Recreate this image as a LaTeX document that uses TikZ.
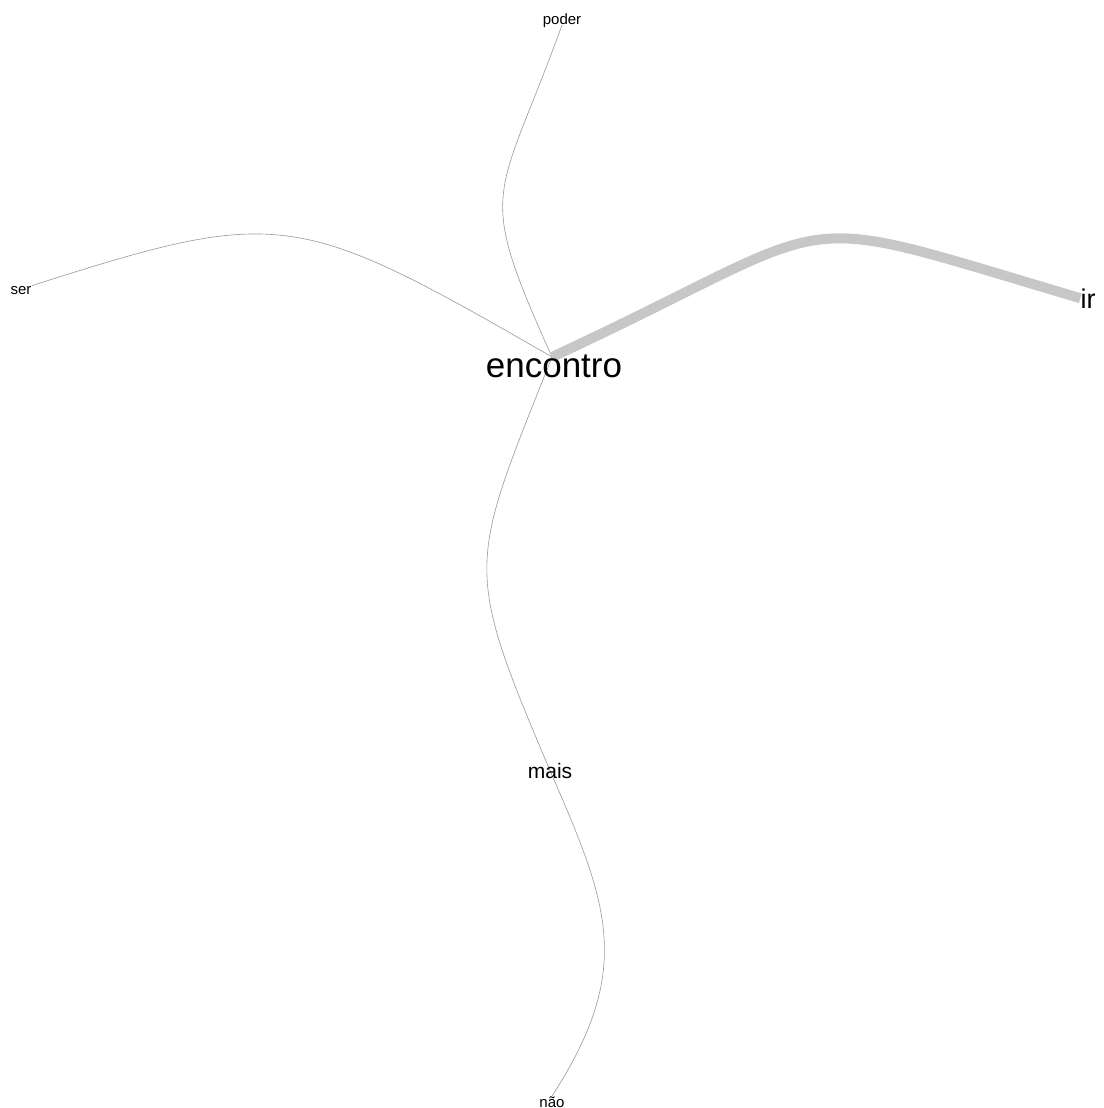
\documentclass[tikz,border=0pt]{standalone}
\usepackage{fontspec}
\setmainfont{Liberation Sans}
\usetikzlibrary{backgrounds}

\begin{document}
\begin{tikzpicture}[
  x=1pt, y=-1pt,
  word/.style={inner sep=0pt, anchor=base, text=black},
  hubword/.style={word, font=\fontsize{35}{35}\selectfont},
  bigword/.style={word, font=\fontsize{27}{27}\selectfont},
  midword/.style={word, font=\fontsize{21}{21}\selectfont},
  smallword/.style={word, font=\fontsize{15}{15}\selectfont},
  link/.style={draw=black!40, line width=0.6pt},
  heavylink/.style={draw=black!22, line width=10pt}
]
  \useasboundingbox (0,0) rectangle (1103,1108);

  \node[hubword] (enc) at (554,377) {encontro};
  \node[bigword] (ir) at (1088,308) {ir};
  \node[midword] (mais) at (550,778) {mais};
  \node[smallword] (poder) at (562,25) {poder};
  \node[smallword] (ser) at (21,294) {ser};
  \node[smallword] (nao) at (552,1107) {não};
  \coordinate (hub) at (552,357);

  \begin{scope}[on background layer]
    \fill[white] (0,0) rectangle (1103,1108);
    \draw[link] (hub) .. controls (474,184) and (497,205) .. (poder.base);
    \draw[link] (hub) .. controls (297,210) and (281,206) .. (ser.north east);
    \draw[link] (hub) .. controls (469,566) and (462,564) .. (mais.center);
    \draw[link] (mais.center) .. controls (608,904) and (635,968) .. (nao.north);
    \draw[heavylink] (hub) .. controls (858,215) and (772,207) .. (ir.west);
  \end{scope}
\end{tikzpicture}
\end{document}
